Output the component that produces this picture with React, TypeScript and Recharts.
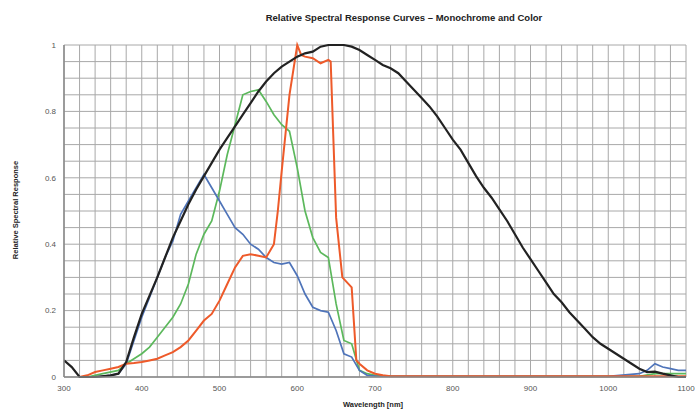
import React from "react";
import { LineChart, Line, XAxis, YAxis, CartesianGrid } from "recharts";

// wavelength grid (nm) and response values
const blackNm = [300, 310, 320, 340, 360, 370, 380, 390, 400, 410, 420, 430, 440, 450, 460, 470, 480, 490, 500, 510, 520, 530, 540, 550, 560, 570, 580, 590, 600, 610, 620, 630, 640, 650, 660, 670, 680, 690, 700, 710, 720, 730, 740, 750, 760, 770, 780, 790, 800, 810, 820, 830, 840, 850, 860, 870, 880, 890, 900, 910, 920, 930, 940, 950, 960, 970, 980, 990, 1000, 1010, 1020, 1030, 1040, 1050, 1060, 1070, 1080, 1090, 1100];
const blackVal = [0.05, 0.03, 0.0, 0.0, 0.005, 0.01, 0.045, 0.12, 0.19, 0.245, 0.3, 0.36, 0.42, 0.47, 0.52, 0.565, 0.605, 0.645, 0.685, 0.72, 0.755, 0.79, 0.825, 0.86, 0.89, 0.915, 0.935, 0.95, 0.965, 0.975, 0.98, 0.995, 1.0, 1.0, 1.0, 0.995, 0.985, 0.97, 0.955, 0.94, 0.93, 0.915, 0.89, 0.865, 0.84, 0.815, 0.785, 0.75, 0.715, 0.685, 0.645, 0.605, 0.57, 0.54, 0.505, 0.47, 0.43, 0.39, 0.355, 0.32, 0.285, 0.25, 0.225, 0.195, 0.17, 0.145, 0.12, 0.1, 0.085, 0.07, 0.055, 0.04, 0.025, 0.015, 0.016, 0.01, 0.005, 0.0, 0.0];

const blueNm = [320, 340, 360, 370, 380, 390, 400, 410, 420, 430, 440, 450, 460, 470, 480, 490, 500, 510, 520, 530, 540, 550, 560, 570, 580, 590, 600, 610, 620, 630, 640, 650, 660, 670, 680, 690, 700, 800, 900, 1000, 1040, 1050, 1060, 1070, 1080, 1090, 1100];
const blueVal = [0.0, 0.0, 0.005, 0.01, 0.04, 0.11, 0.18, 0.24, 0.3, 0.36, 0.41, 0.49, 0.53, 0.57, 0.61, 0.57, 0.53, 0.49, 0.45, 0.43, 0.4, 0.385, 0.36, 0.345, 0.34, 0.345, 0.305, 0.25, 0.21, 0.2, 0.195, 0.14, 0.07, 0.06, 0.02, 0.005, 0.003, 0.002, 0.002, 0.002, 0.01, 0.02, 0.04, 0.03, 0.025, 0.02, 0.02];

const greenNm = [330, 350, 370, 380, 390, 400, 410, 420, 430, 440, 450, 460, 470, 480, 490, 500, 510, 520, 530, 540, 550, 560, 570, 580, 590, 600, 610, 620, 630, 640, 650, 660, 670, 680, 690, 700, 720, 800, 1040, 1060, 1100];
const greenVal = [0.0, 0.01, 0.02, 0.04, 0.055, 0.07, 0.09, 0.12, 0.15, 0.18, 0.22, 0.28, 0.37, 0.43, 0.47, 0.56, 0.67, 0.76, 0.85, 0.86, 0.865, 0.83, 0.79, 0.76, 0.74, 0.63, 0.5, 0.42, 0.375, 0.36, 0.22, 0.11, 0.1, 0.02, 0.01, 0.005, 0.003, 0.002, 0.002, 0.01, 0.01];

const redNm = [320, 330, 340, 350, 360, 370, 380, 390, 400, 410, 420, 430, 440, 450, 460, 470, 480, 490, 500, 510, 520, 530, 540, 550, 560, 570, 575, 580, 590, 600, 605, 610, 620, 630, 640, 643, 650, 658, 670, 676, 680, 690, 700, 710, 720, 800, 1100];
const redVal = [0.0, 0.005, 0.015, 0.02, 0.025, 0.03, 0.04, 0.042, 0.045, 0.05, 0.055, 0.065, 0.075, 0.09, 0.11, 0.14, 0.17, 0.19, 0.23, 0.28, 0.33, 0.365, 0.37, 0.365, 0.36, 0.4, 0.5, 0.62, 0.85, 1.0, 0.97, 0.965, 0.96, 0.945, 0.955, 0.95, 0.48, 0.3, 0.27, 0.05, 0.04, 0.02, 0.01, 0.005, 0.002, 0.002, 0.002];

const X_DOMAIN = [300, 1100];
const xTicks = Array.from({ length: 41 }, (_, i) => 300 + i * 20);
const yTicks = Array.from({ length: 21 }, (_, i) => i / 20);

const toRows = (nm: number[], vals: number[]) => nm.map((w, i) => ({ nm: w, v: vals[i] }));

const labelFont = "'Liberation Sans', Arial, sans-serif";

export default function App() {
  return (
    <div style={{ position: "absolute", left: 0, top: 0, width: 697, height: 411, background: "#fff", fontFamily: labelFont }}>
      <div style={{ position: "absolute", left: 0, width: 808, top: 12, textAlign: "center", fontSize: 9.5, fontWeight: 700, color: "#222" }}>
        Relative Spectral Response Curves – Monochrome and Color
      </div>
      <div style={{ position: "absolute", left: 15, top: 210, transform: "translate(-50%, -50%) rotate(-90deg)", whiteSpace: "nowrap", fontSize: 7.5, fontWeight: 700, color: "#222" }}>
        Relative Spectral Response
      </div>
      <div style={{ position: "absolute", left: 0, width: 746, top: 400, textAlign: "center", fontSize: 7.5, fontWeight: 700, color: "#222" }}>
        Wavelength [nm]
      </div>
      <LineChart width={697} height={411} margin={{ top: 45, right: 11, left: 4, bottom: 4 }}>
        <CartesianGrid stroke="#a8a8a8" strokeWidth={1} />
        <XAxis
          dataKey="nm"
          type="number"
          domain={X_DOMAIN}
          ticks={xTicks}
          interval={0}
          height={30}
          tickLine={false}
          axisLine={{ stroke: "#888", strokeWidth: 1.5 }}
          tick={{ fontSize: 8, fill: "#555", fontFamily: labelFont }}
          tickFormatter={(v: number) => (v % 100 === 0 ? String(v) : "")}
          allowDataOverflow
        />
        <YAxis
          type="number"
          domain={[0, 1]}
          ticks={yTicks}
          interval={0}
          width={60}
          tickLine={false}
          axisLine={{ stroke: "#888", strokeWidth: 1.5 }}
          tick={{ fontSize: 8, fill: "#555", fontFamily: labelFont }}
          tickFormatter={(v: number) => (Math.round(v * 100) % 20 === 0 ? String(Math.round(v * 10) / 10) : "")}
        />
        <Line data={toRows(greenNm, greenVal)} dataKey="v" stroke="#5cb85c" strokeWidth={1.7} dot={false} isAnimationActive={false} />
        <Line data={toRows(blueNm, blueVal)} dataKey="v" stroke="#4f74b9" strokeWidth={1.7} dot={false} isAnimationActive={false} />
        <Line data={toRows(redNm, redVal)} dataKey="v" stroke="#ee5a2a" strokeWidth={2} dot={false} isAnimationActive={false} />
        <Line data={toRows(blackNm, blackVal)} dataKey="v" stroke="#222" strokeWidth={2.2} dot={false} isAnimationActive={false} />
      </LineChart>
    </div>
  );
}
